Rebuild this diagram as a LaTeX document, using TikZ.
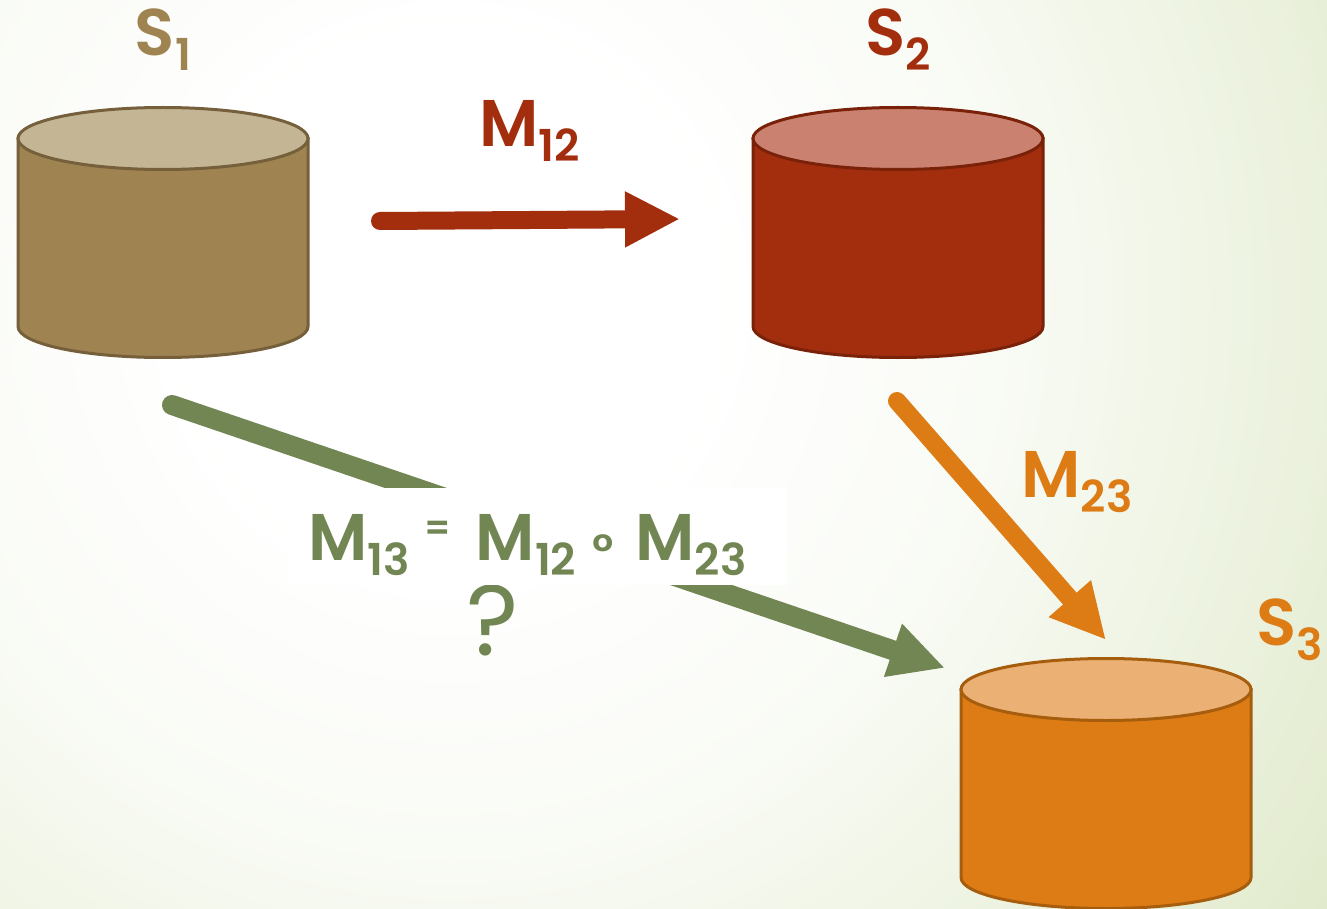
\documentclass[tikz,border=0pt]{standalone}
\usepackage{xcolor}
\usepackage{fontspec}
\usepackage{tikz}
\usetikzlibrary{arrows.meta, positioning, calc}
\setmainfont{Poppins}[BoldFont={Poppins SemiBold}]
\definecolor{brownbody}{RGB}{159, 131, 81}
\definecolor{brownline}{RGB}{117, 96, 59}
\definecolor{browntop}{RGB}{196, 181, 148}
\definecolor{redbody}{RGB}{163, 46, 13}
\definecolor{redline}{RGB}{122, 34, 9}
\definecolor{redtop}{RGB}{203, 129, 112}
\definecolor{orangebody}{RGB}{221, 124, 21}
\definecolor{orangeline}{RGB}{166, 93, 14}
\definecolor{orangetop}{RGB}{235, 176, 115}
\definecolor{greenarrow}{RGB}{114, 134, 83}
\definecolor{bgone}{RGB}{249, 251, 245}
\definecolor{bgtwo}{RGB}{240, 245, 230}
\definecolor{bgthree}{RGB}{232, 239, 216}
\definecolor{bgfour}{RGB}{224, 233, 202}
\pgfdeclareradialshading{slidebg}{\pgfpoint{0bp}{0bp}}{color(0bp)=(white); color(6bp)=(white); color(12.5bp)=(bgone); color(17bp)=(bgtwo); color(21bp)=(bgthree); color(25bp)=(bgfour); color(50bp)=(bgfour)}
\newcommand{\subtxt}[2]{#1\raisebox{-15pt}{\fontsize{44}{44}\selectfont #2}}
\newcommand{\storecyl}[4]{
\draw [edge, draw=#2, fill=#3] ([yshift=-32.5pt]#1.north west) -- ([yshift=31.5pt]#1.south west) arc[start angle=180, end angle=360, x radius=145pt, y radius=31pt] -- ([yshift=-32.5pt]#1.north east) -- cycle;
\draw [edge, draw=#2, fill=#4] ([yshift=-32.5pt]#1.north) ellipse [x radius=145pt, y radius=31pt];
}
\tikzset{
    store/.style = {rectangle, inner sep=0pt, outer sep=0pt, minimum width=290pt, minimum height=252pt},
    edge/.style = {line width=3pt},
    lab/.style = {inner sep=0pt, font=\fontsize{66}{66}\selectfont\bfseries},
    arrow/.style = {line width=18pt, line cap=round, -{Triangle[length=55pt,width=52pt]}}
}
\begin{document}
\begin{tikzpicture}[x=1pt, y=-1pt]
\useasboundingbox (0,0) rectangle (1327,909);
% Background
\begin{scope}
\clip (0,0) rectangle (1327,909);
\path[shading=slidebg] (-650,-800) rectangle (1550,1400);
\end{scope}

% Nodes
\node (S1) [store] at (163,232) {};
\node (S2) [store, right=445pt of S1] {};
\node (S3) [store, below=299pt of S2, xshift=208pt] {};
\storecyl{S1}{brownline}{brownbody}{browntop}
\storecyl{S2}{redline}{redbody}{redtop}
\storecyl{S3}{orangeline}{orangebody}{orangetop}

\node (L1) [lab, text=brownbody, above=35pt of S1] {\subtxt{S}{1}};
\node (L2) [lab, text=redbody, above=35pt of S2] {\subtxt{S}{2}};
\node (L3) [lab, text=orangebody, above right=-4pt and 5pt of S3] {\subtxt{S}{3}};

% Arrow ends
\coordinate (A12) at ([shift={(72,-11)}]S1.east);
\coordinate (B12) at ([shift={(-73,-13)}]S2.west);
\coordinate (A23) at ([shift={(-1,43)}]S2.south);
\coordinate (B23) at ([shift={(0,-17)}]S3.north);
\coordinate (A13) at ([shift={(9,47)}]S1.south);
\coordinate (B13) at ([shift={(-16,-115)}]S3.west);

% Arrows
\draw [arrow, redbody] (A12) -- (B12);
\draw [arrow, orangebody] (A23) -- (B23);
\draw [arrow, greenarrow, line width=20pt] (A13) -- (B13);

\node (M12) [lab, text=redbody, above right=-56pt and 171pt of S1.north east] {\subtxt{M}{12}};
\node (M23) [lab, text=orangebody] at (1077,482) {\subtxt{M}{23}};
\node (Q) [lab, text=greenarrow, font=\fontsize{100}{100}\selectfont] at (493,620) {?};
\node (M13) [lab, text=greenarrow, fill=white, minimum width=497pt, text height=72pt, text depth=25pt] at (537.5,536.5) {\subtxt{M}{13}\hspace{14pt}\raisebox{20pt}{\fontsize{36}{36}\selectfont=}\hspace{25pt}\subtxt{M}{12}\hspace{16pt}\raisebox{-8pt}{\fontsize{48}{48}\selectfont°}\hspace{22pt}\subtxt{M}{23}\rule{20pt}{0pt}};
\end{tikzpicture}
\end{document}
